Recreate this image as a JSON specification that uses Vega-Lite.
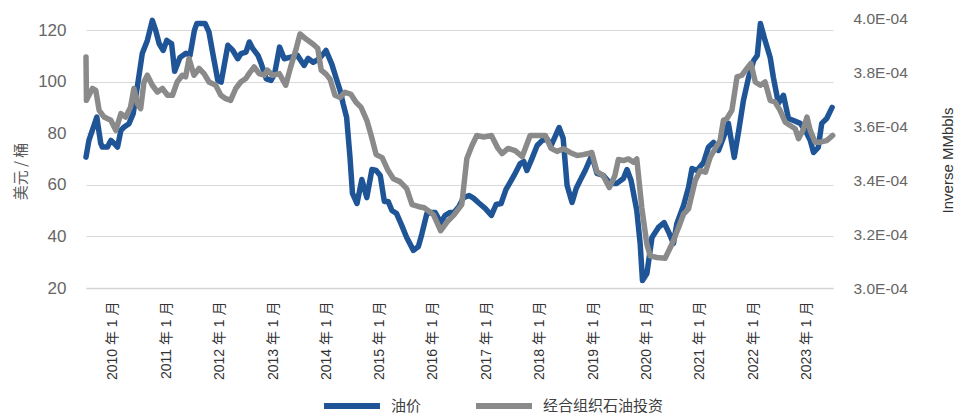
{
  "$schema": "https://vega.github.io/schema/vega-lite/v6.json",
  "width": 747,
  "height": 270,
  "autosize": {"type": "none"},
  "padding": {"left": 86, "top": 18, "right": 133, "bottom": 128},
  "background": "white",
  "config": {"view": {"stroke": null}, "font": "Liberation Sans"},
  "datasets": {
    "oil": [
      {"date": "2009-07-01", "price": 70.8}, {"date": "2009-07-21", "price": 77.3}, {"date": "2009-09-13", "price": 86.3},
      {"date": "2009-10-10", "price": 76.1}, {"date": "2009-10-21", "price": 74.7}, {"date": "2009-11-25", "price": 74.7},
      {"date": "2009-12-18", "price": 77.3}, {"date": "2010-01-10", "price": 76.1}, {"date": "2010-02-02", "price": 74.7},
      {"date": "2010-02-25", "price": 81.2}, {"date": "2010-03-17", "price": 82.4}, {"date": "2010-04-21", "price": 83.8},
      {"date": "2010-05-20", "price": 87.7}, {"date": "2010-06-17", "price": 98.0}, {"date": "2010-07-21", "price": 111.0},
      {"date": "2010-08-25", "price": 116.1}, {"date": "2010-09-28", "price": 123.9}, {"date": "2010-10-21", "price": 120.0},
      {"date": "2010-11-14", "price": 114.8}, {"date": "2010-12-11", "price": 112.2}, {"date": "2011-01-05", "price": 116.1},
      {"date": "2011-02-07", "price": 114.8}, {"date": "2011-02-28", "price": 104.1}, {"date": "2011-04-05", "price": 109.5},
      {"date": "2011-05-16", "price": 111.1}, {"date": "2011-06-13", "price": 110.3}, {"date": "2011-07-13", "price": 120.0},
      {"date": "2011-07-30", "price": 122.7}, {"date": "2011-09-24", "price": 122.7}, {"date": "2011-10-21", "price": 119.3},
      {"date": "2011-11-16", "price": 111.0}, {"date": "2011-12-20", "price": 100.6}, {"date": "2012-01-12", "price": 99.9},
      {"date": "2012-02-27", "price": 114.2}, {"date": "2012-04-01", "price": 112.2}, {"date": "2012-05-05", "price": 109.0},
      {"date": "2012-05-27", "price": 111.0}, {"date": "2012-06-30", "price": 111.6}, {"date": "2012-07-23", "price": 115.5},
      {"date": "2012-08-16", "price": 112.9}, {"date": "2012-09-20", "price": 110.3}, {"date": "2012-10-12", "price": 107.1},
      {"date": "2012-11-16", "price": 101.2}, {"date": "2012-12-19", "price": 100.6}, {"date": "2013-01-12", "price": 103.2},
      {"date": "2013-02-15", "price": 113.5}, {"date": "2013-03-19", "price": 109.0}, {"date": "2013-05-02", "price": 109.6},
      {"date": "2013-06-17", "price": 110.3}, {"date": "2013-08-02", "price": 106.4}, {"date": "2013-08-29", "price": 109.1},
      {"date": "2013-10-03", "price": 107.6}, {"date": "2013-11-06", "price": 108.7}, {"date": "2013-12-03", "price": 110.3},
      {"date": "2013-12-30", "price": 112.2}, {"date": "2014-02-08", "price": 106.8}, {"date": "2014-03-08", "price": 101.7},
      {"date": "2014-04-05", "price": 96.7}, {"date": "2014-04-27", "price": 91.3}, {"date": "2014-05-20", "price": 86.2},
      {"date": "2014-06-12", "price": 70.7}, {"date": "2014-06-29", "price": 56.7}, {"date": "2014-07-30", "price": 52.8},
      {"date": "2014-09-01", "price": 62.1}, {"date": "2014-10-05", "price": 55.1}, {"date": "2014-11-09", "price": 66.0},
      {"date": "2014-12-08", "price": 65.6}, {"date": "2015-01-05", "price": 63.7}, {"date": "2015-02-02", "price": 53.6},
      {"date": "2015-02-28", "price": 53.6}, {"date": "2015-03-26", "price": 50.1}, {"date": "2015-04-27", "price": 48.9},
      {"date": "2015-06-01", "price": 44.3}, {"date": "2015-07-05", "price": 39.6}, {"date": "2015-08-20", "price": 34.6},
      {"date": "2015-09-23", "price": 36.1}, {"date": "2015-10-16", "price": 40.8}, {"date": "2015-11-20", "price": 48.9},
      {"date": "2015-12-19", "price": 49.3}, {"date": "2016-01-16", "price": 49.3}, {"date": "2016-02-23", "price": 45.4},
      {"date": "2016-03-24", "price": 48.2}, {"date": "2016-04-27", "price": 49.3}, {"date": "2016-05-24", "price": 49.3},
      {"date": "2016-06-28", "price": 51.7}, {"date": "2016-07-28", "price": 55.1}, {"date": "2016-09-05", "price": 55.9},
      {"date": "2016-10-06", "price": 54.8}, {"date": "2016-11-06", "price": 53.2}, {"date": "2016-12-23", "price": 50.9},
      {"date": "2017-02-04", "price": 48.2}, {"date": "2017-03-08", "price": 52.4}, {"date": "2017-04-11", "price": 52.8},
      {"date": "2017-05-15", "price": 58.3}, {"date": "2017-06-12", "price": 61.0}, {"date": "2017-07-09", "price": 63.7},
      {"date": "2017-08-20", "price": 68.3}, {"date": "2017-09-13", "price": 69.1}, {"date": "2017-10-05", "price": 65.6},
      {"date": "2017-11-09", "price": 70.3}, {"date": "2017-12-14", "price": 75.3}, {"date": "2018-01-18", "price": 77.3},
      {"date": "2018-02-22", "price": 77.7}, {"date": "2018-03-19", "price": 75.3}, {"date": "2018-04-16", "price": 78.8},
      {"date": "2018-05-13", "price": 82.3}, {"date": "2018-06-10", "price": 78.1}, {"date": "2018-07-07", "price": 59.8},
      {"date": "2018-08-10", "price": 53.2}, {"date": "2018-09-07", "price": 58.6}, {"date": "2018-10-04", "price": 61.7},
      {"date": "2018-11-08", "price": 65.6}, {"date": "2018-12-23", "price": 71.5}, {"date": "2019-01-27", "price": 64.5},
      {"date": "2019-03-11", "price": 63.7}, {"date": "2019-04-27", "price": 60.6}, {"date": "2019-06-12", "price": 60.6},
      {"date": "2019-07-27", "price": 62.5}, {"date": "2019-08-21", "price": 66.0}, {"date": "2019-09-18", "price": 61.7},
      {"date": "2019-10-27", "price": 50.1}, {"date": "2019-11-19", "price": 37.3}, {"date": "2019-12-05", "price": 22.9},
      {"date": "2020-01-04", "price": 25.6}, {"date": "2020-02-08", "price": 39.6}, {"date": "2020-03-23", "price": 43.5},
      {"date": "2020-05-01", "price": 45.4}, {"date": "2020-06-05", "price": 41.2}, {"date": "2020-07-04", "price": 37.3},
      {"date": "2020-07-27", "price": 45.0}, {"date": "2020-09-11", "price": 52.0}, {"date": "2020-10-15", "price": 59.0},
      {"date": "2020-11-08", "price": 66.4}, {"date": "2020-12-12", "price": 65.6}, {"date": "2021-01-26", "price": 68.7},
      {"date": "2021-02-28", "price": 74.6}, {"date": "2021-04-04", "price": 76.5}, {"date": "2021-05-08", "price": 73.4},
      {"date": "2021-06-11", "price": 78.4}, {"date": "2021-07-15", "price": 83.9}, {"date": "2021-08-24", "price": 70.7},
      {"date": "2021-09-24", "price": 81.2}, {"date": "2021-10-26", "price": 92.8}, {"date": "2021-11-30", "price": 101.7},
      {"date": "2022-01-04", "price": 108.3}, {"date": "2022-01-29", "price": 110.3}, {"date": "2022-02-19", "price": 122.7},
      {"date": "2022-03-23", "price": 116.1}, {"date": "2022-04-27", "price": 109.5}, {"date": "2022-05-19", "price": 101.7},
      {"date": "2022-06-22", "price": 91.7}, {"date": "2022-07-27", "price": 94.8}, {"date": "2022-08-30", "price": 85.8},
      {"date": "2022-10-04", "price": 85.0}, {"date": "2022-11-19", "price": 83.9}, {"date": "2022-12-23", "price": 81.2},
      {"date": "2023-01-26", "price": 77.3}, {"date": "2023-02-18", "price": 72.6}, {"date": "2023-03-22", "price": 74.6},
      {"date": "2023-04-15", "price": 83.9}, {"date": "2023-05-19", "price": 85.8}, {"date": "2023-06-25", "price": 90.1}
    ],
    "oecd": [
      {"date": "2009-07-01", "inv": 0.0003856}, {"date": "2009-07-04", "inv": 0.0003695}, {"date": "2009-08-14", "inv": 0.0003739},
      {"date": "2009-09-06", "inv": 0.0003732}, {"date": "2009-09-29", "inv": 0.0003658}, {"date": "2009-11-02", "inv": 0.0003633},
      {"date": "2009-12-18", "inv": 0.0003621}, {"date": "2010-01-21", "inv": 0.0003584}, {"date": "2010-02-25", "inv": 0.0003646},
      {"date": "2010-03-29", "inv": 0.0003633}, {"date": "2010-05-02", "inv": 0.0003670}, {"date": "2010-05-25", "inv": 0.0003739},
      {"date": "2010-06-17", "inv": 0.0003683}, {"date": "2010-07-10", "inv": 0.0003664}, {"date": "2010-08-02", "inv": 0.0003763},
      {"date": "2010-08-25", "inv": 0.0003788}, {"date": "2010-09-28", "inv": 0.0003751}, {"date": "2010-11-02", "inv": 0.0003726},
      {"date": "2010-12-06", "inv": 0.0003739}, {"date": "2011-01-10", "inv": 0.0003714}, {"date": "2011-02-13", "inv": 0.0003714},
      {"date": "2011-03-17", "inv": 0.0003763}, {"date": "2011-04-21", "inv": 0.0003788}, {"date": "2011-05-14", "inv": 0.0003782},
      {"date": "2011-06-06", "inv": 0.0003850}, {"date": "2011-07-10", "inv": 0.0003788}, {"date": "2011-08-14", "inv": 0.0003813},
      {"date": "2011-09-17", "inv": 0.0003794}, {"date": "2011-10-21", "inv": 0.0003763}, {"date": "2011-12-06", "inv": 0.0003751},
      {"date": "2012-01-10", "inv": 0.0003714}, {"date": "2012-02-13", "inv": 0.0003701}, {"date": "2012-03-17", "inv": 0.0003695},
      {"date": "2012-04-21", "inv": 0.0003739}, {"date": "2012-05-25", "inv": 0.0003763}, {"date": "2012-06-29", "inv": 0.0003776},
      {"date": "2012-07-21", "inv": 0.0003794}, {"date": "2012-08-25", "inv": 0.0003819}, {"date": "2012-09-28", "inv": 0.0003794},
      {"date": "2012-11-02", "inv": 0.0003788}, {"date": "2012-11-24", "inv": 0.0003807}, {"date": "2012-12-28", "inv": 0.0003788},
      {"date": "2013-02-13", "inv": 0.0003794}, {"date": "2013-03-29", "inv": 0.0003751}, {"date": "2013-05-02", "inv": 0.0003819},
      {"date": "2013-06-06", "inv": 0.0003881}, {"date": "2013-07-05", "inv": 0.0003941}, {"date": "2013-08-15", "inv": 0.0003922},
      {"date": "2013-10-03", "inv": 0.0003903}, {"date": "2013-11-03", "inv": 0.0003888}, {"date": "2013-11-27", "inv": 0.0003807},
      {"date": "2013-12-30", "inv": 0.0003792}, {"date": "2014-01-27", "inv": 0.0003773}, {"date": "2014-03-01", "inv": 0.0003714},
      {"date": "2014-04-05", "inv": 0.0003706}, {"date": "2014-05-09", "inv": 0.0003725}, {"date": "2014-06-19", "inv": 0.0003717},
      {"date": "2014-07-23", "inv": 0.0003688}, {"date": "2014-08-27", "inv": 0.0003669}, {"date": "2014-10-05", "inv": 0.0003621},
      {"date": "2014-11-04", "inv": 0.0003565}, {"date": "2014-12-08", "inv": 0.0003494}, {"date": "2015-01-18", "inv": 0.0003483},
      {"date": "2015-02-28", "inv": 0.0003435}, {"date": "2015-04-05", "inv": 0.0003405}, {"date": "2015-05-20", "inv": 0.0003394},
      {"date": "2015-07-05", "inv": 0.0003368}, {"date": "2015-08-11", "inv": 0.0003309}, {"date": "2015-09-28", "inv": 0.0003301},
      {"date": "2015-11-02", "inv": 0.0003297}, {"date": "2015-11-30", "inv": 0.0003286}, {"date": "2016-01-05", "inv": 0.0003271},
      {"date": "2016-02-23", "inv": 0.0003212}, {"date": "2016-04-07", "inv": 0.0003245}, {"date": "2016-05-24", "inv": 0.0003271},
      {"date": "2016-07-16", "inv": 0.0003309}, {"date": "2016-08-20", "inv": 0.0003480}, {"date": "2016-09-24", "inv": 0.0003528},
      {"date": "2016-10-27", "inv": 0.0003565}, {"date": "2016-12-12", "inv": 0.0003559}, {"date": "2017-02-04", "inv": 0.0003565},
      {"date": "2017-03-21", "inv": 0.0003517}, {"date": "2017-04-18", "inv": 0.0003498}, {"date": "2017-05-29", "inv": 0.0003517},
      {"date": "2017-07-16", "inv": 0.0003509}, {"date": "2017-09-03", "inv": 0.0003487}, {"date": "2017-10-27", "inv": 0.0003565},
      {"date": "2017-12-23", "inv": 0.0003565}, {"date": "2018-02-08", "inv": 0.0003565}, {"date": "2018-03-19", "inv": 0.0003517},
      {"date": "2018-04-29", "inv": 0.0003506}, {"date": "2018-06-12", "inv": 0.0003516}, {"date": "2018-07-27", "inv": 0.0003502},
      {"date": "2018-09-14", "inv": 0.0003491}, {"date": "2018-10-25", "inv": 0.0003494}, {"date": "2018-11-28", "inv": 0.0003498},
      {"date": "2018-12-23", "inv": 0.0003502}, {"date": "2019-01-27", "inv": 0.0003431}, {"date": "2019-03-11", "inv": 0.0003416},
      {"date": "2019-04-22", "inv": 0.0003372}, {"date": "2019-05-30", "inv": 0.0003416}, {"date": "2019-06-23", "inv": 0.0003476},
      {"date": "2019-07-27", "inv": 0.0003472}, {"date": "2019-08-30", "inv": 0.0003478}, {"date": "2019-10-04", "inv": 0.0003466},
      {"date": "2019-10-27", "inv": 0.0003478}, {"date": "2019-11-30", "inv": 0.0003299}, {"date": "2020-01-04", "inv": 0.0003162},
      {"date": "2020-01-27", "inv": 0.0003119}, {"date": "2020-03-12", "inv": 0.0003113}, {"date": "2020-05-08", "inv": 0.0003110},
      {"date": "2020-06-23", "inv": 0.0003162}, {"date": "2020-08-08", "inv": 0.0003224}, {"date": "2020-09-11", "inv": 0.0003274},
      {"date": "2020-10-15", "inv": 0.0003293}, {"date": "2020-11-30", "inv": 0.0003398}, {"date": "2021-01-04", "inv": 0.0003435},
      {"date": "2021-02-08", "inv": 0.0003429}, {"date": "2021-03-12", "inv": 0.0003484}, {"date": "2021-04-15", "inv": 0.0003516},
      {"date": "2021-05-19", "inv": 0.0003546}, {"date": "2021-06-11", "inv": 0.0003621}, {"date": "2021-07-04", "inv": 0.0003627},
      {"date": "2021-08-08", "inv": 0.0003658}, {"date": "2021-09-12", "inv": 0.0003782}, {"date": "2021-10-15", "inv": 0.0003788},
      {"date": "2021-11-19", "inv": 0.0003813}, {"date": "2021-12-16", "inv": 0.0003832}, {"date": "2022-01-15", "inv": 0.0003763},
      {"date": "2022-02-19", "inv": 0.0003751}, {"date": "2022-03-23", "inv": 0.0003763}, {"date": "2022-04-27", "inv": 0.0003695},
      {"date": "2022-05-30", "inv": 0.0003689}, {"date": "2022-07-04", "inv": 0.0003658}, {"date": "2022-08-08", "inv": 0.0003614},
      {"date": "2022-09-11", "inv": 0.0003602}, {"date": "2022-10-15", "inv": 0.0003590}, {"date": "2022-11-07", "inv": 0.0003553},
      {"date": "2022-12-07", "inv": 0.0003584}, {"date": "2023-01-04", "inv": 0.0003633}, {"date": "2023-01-26", "inv": 0.0003584},
      {"date": "2023-03-01", "inv": 0.0003540}, {"date": "2023-04-04", "inv": 0.0003540}, {"date": "2023-05-19", "inv": 0.0003546},
      {"date": "2023-06-29", "inv": 0.0003565}
    ]
  },
  "layer": [
    {
      "data": {"name": "oil"},
      "mark": {"type": "line", "strokeWidth": 5.5, "strokeJoin": "round", "strokeCap": "round", "clip": false},
      "encoding": {
        "x": {
          "field": "date", "type": "temporal",
          "scale": {"type": "utc", "domain": [{"year": 2009, "month": 7, "date": 1, "utc": true}, {"year": 2023, "month": 7, "date": 1, "utc": true}]},
          "axis": {
            "title": null,
            "values": [
              {"year": 2010, "month": 1, "date": 1, "utc": true}, {"year": 2011, "month": 1, "date": 1, "utc": true},
              {"year": 2012, "month": 1, "date": 1, "utc": true}, {"year": 2013, "month": 1, "date": 1, "utc": true},
              {"year": 2014, "month": 1, "date": 1, "utc": true}, {"year": 2015, "month": 1, "date": 1, "utc": true},
              {"year": 2016, "month": 1, "date": 1, "utc": true}, {"year": 2017, "month": 1, "date": 1, "utc": true},
              {"year": 2018, "month": 1, "date": 1, "utc": true}, {"year": 2019, "month": 1, "date": 1, "utc": true},
              {"year": 2020, "month": 1, "date": 1, "utc": true}, {"year": 2021, "month": 1, "date": 1, "utc": true},
              {"year": 2022, "month": 1, "date": 1, "utc": true}, {"year": 2023, "month": 1, "date": 1, "utc": true}
            ],
            "format": "%Y 年 %-m 月",
            "labelAngle": 270,
            "labelAlign": "right",
            "labelBaseline": "middle",
            "labelPadding": 13,
            "labelFont": "Liberation Sans, Noto Sans CJK SC",
            "labelFontSize": 14,
            "labelColor": "#333333",
            "labelOverlap": false,
            "labelFlush": false,
            "ticks": false,
            "tickSize": 0,
            "grid": false,
            "domain": true,
            "domainColor": "#d4d4d4",
            "domainWidth": 1.5
          }
        },
        "y": {
          "field": "price", "type": "quantitative",
          "scale": {"domain": [20, 124.8], "nice": false, "zero": false},
          "axis": {
            "title": "美元 / 桶",
            "titleFont": "Noto Sans CJK SC",
            "titleFontSize": 15,
            "titleFontWeight": "normal",
            "titleColor": "#595959",
            "titleAngle": 270,
            "titleAlign": "center",
            "titleBaseline": "middle",
            "titleX": -66,
            "titleY": 153,
            "values": [20, 40, 60, 80, 100, 120],
            "labelFontSize": 17,
            "labelColor": "#666666",
            "labelPadding": 20,
            "ticks": false,
            "tickSize": 0,
            "domain": false,
            "grid": true,
            "gridColor": "#d9d9d9",
            "gridWidth": 1.2
          }
        },
        "color": {
          "datum": "油价", "type": "nominal",
          "scale": {"domain": ["油价", "经合组织石油投资"], "range": ["#1f5596", "#8a8a8a"]},
          "legend": {
            "orient": "none",
            "legendX": 235,
            "legendY": 357,
            "direction": "horizontal",
            "title": null,
            "symbolType": "stroke",
            "symbolSize": 3136,
            "symbolStrokeWidth": 6,
            "labelFont": "Noto Sans CJK SC",
            "labelFontSize": 15,
            "labelColor": "#404040",
            "labelOffset": 8,
            "columnPadding": 42,
            "padding": 0
          }
        }
      }
    },
    {
      "data": {"name": "oecd"},
      "mark": {"type": "line", "strokeWidth": 5.5, "strokeJoin": "round", "strokeCap": "round", "clip": false},
      "encoding": {
        "x": {"field": "date", "type": "temporal"},
        "y": {
          "field": "inv", "type": "quantitative",
          "scale": {"domain": [0.0003, 0.0004], "nice": false, "zero": false},
          "axis": {
            "orient": "right",
            "title": "Inverse MMbbls",
            "titleFontSize": 15,
            "titleFontWeight": "normal",
            "titleColor": "#333333",
            "titleAngle": 270,
            "titleAlign": "center",
            "titleBaseline": "middle",
            "titleX": 114,
            "titleY": 142,
            "values": [0.0003, 0.00032, 0.00034, 0.00036, 0.00038, 0.0004],
            "labelExpr": "format(datum.value * 10000, '.1f') + 'E-04'",
            "labelFontSize": 15.5,
            "labelColor": "#666666",
            "labelPadding": 20,
            "ticks": false,
            "tickSize": 0,
            "domain": false,
            "grid": false
          }
        },
        "color": {"datum": "经合组织石油投资", "type": "nominal"}
      }
    }
  ],
  "resolve": {"scale": {"y": "independent"}}
}
